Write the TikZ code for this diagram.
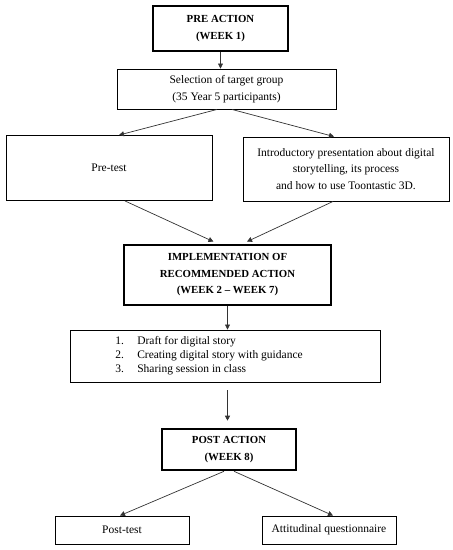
\documentclass[tikz,border=0pt]{standalone}
\usepackage{fontspec}
\setmainfont{Liberation Serif}
\usetikzlibrary{arrows.meta}
\begin{document}
\begin{tikzpicture}[x=1pt,y=-1pt,
  thinbox/.style={draw=black, line width=0.9pt, inner sep=0pt, align=center, font=\fontsize{11.5}{16.5}\selectfont},
  thickbox/.style={draw=black, line width=2.6pt, inner sep=0pt, align=center, font=\fontsize{10.8}{16.5}\selectfont\bfseries},
  arr/.style={draw=black!80, line width=0.7pt, -{Triangle[length=5pt,width=5pt]}}
]
\useasboundingbox (0,0) rectangle (453,550);
\node[thickbox, minimum width=135pt, minimum height=45pt] (pre) at (220.5,28.5) {PRE ACTION\\(WEEK 1)};
\node[thinbox, minimum width=219pt, minimum height=40pt] (sel) at (226.5,89) {Selection of target group\\(35 Year 5 participants)};
\node[thinbox, minimum width=206pt, minimum height=65pt] (pretest) at (109,168) {Pre-test};
\node[thinbox, minimum width=206pt, minimum height=64pt] (intro) at (346,169) {Introductory presentation about digital\\storytelling, its process\\and how to use Toontastic 3D.};
\node[thickbox, minimum width=207pt, minimum height=60pt] (impl) at (227.5,275) {IMPLEMENTATION OF\\RECOMMENDED ACTION\\(WEEK 2 -- WEEK 7)};
\node[thinbox, minimum width=310pt, minimum height=52pt, font=\fontsize{11.5}{14}\selectfont] (draft) at (225,356) {\begin{tabular}{@{}p{22pt}@{}l@{\hspace{32pt}}}1. & Draft for digital story\\2. & Creating digital story with guidance\\3. & Sharing session in class\end{tabular}};
\node[thickbox, minimum width=134pt, minimum height=41pt] (post) at (229,449.5) {POST ACTION\\(WEEK 8)};
\node[thinbox, minimum width=134pt, minimum height=28pt] (posttest) at (122,530) {Post-test};
\node[thinbox, minimum width=134pt, minimum height=28pt] (att) at (329,530) {Attitudinal questionnaire};

\draw[arr] (pre.south) -- (pre.south |- sel.north);
\draw[arr] ([xshift=-9.5pt]sel.south) -- ([xshift=10pt]pretest.north);
\draw[arr] ([xshift=5.5pt]sel.south) -- ([xshift=-12pt]intro.north);
\draw[arr, shorten >=5pt] ([xshift=16pt]pretest.south) -- ([xshift=-9.5pt]impl.north);
\draw[arr, shorten >=5pt] ([xshift=-13pt]intro.south) -- ([xshift=15pt]impl.north);
\draw[arr] (impl.south) -- (impl.south |- draft.north);
\draw[arr, shorten <=8pt, shorten >=7pt] (draft.south -| impl.south) -- (post.north -| impl.south);
\draw[arr] ([xshift=-5pt]post.south) -- ([xshift=-2pt]posttest.north);
\draw[arr] ([xshift=5pt]post.south) -- ([xshift=4pt]att.north);
\end{tikzpicture}
\end{document}
